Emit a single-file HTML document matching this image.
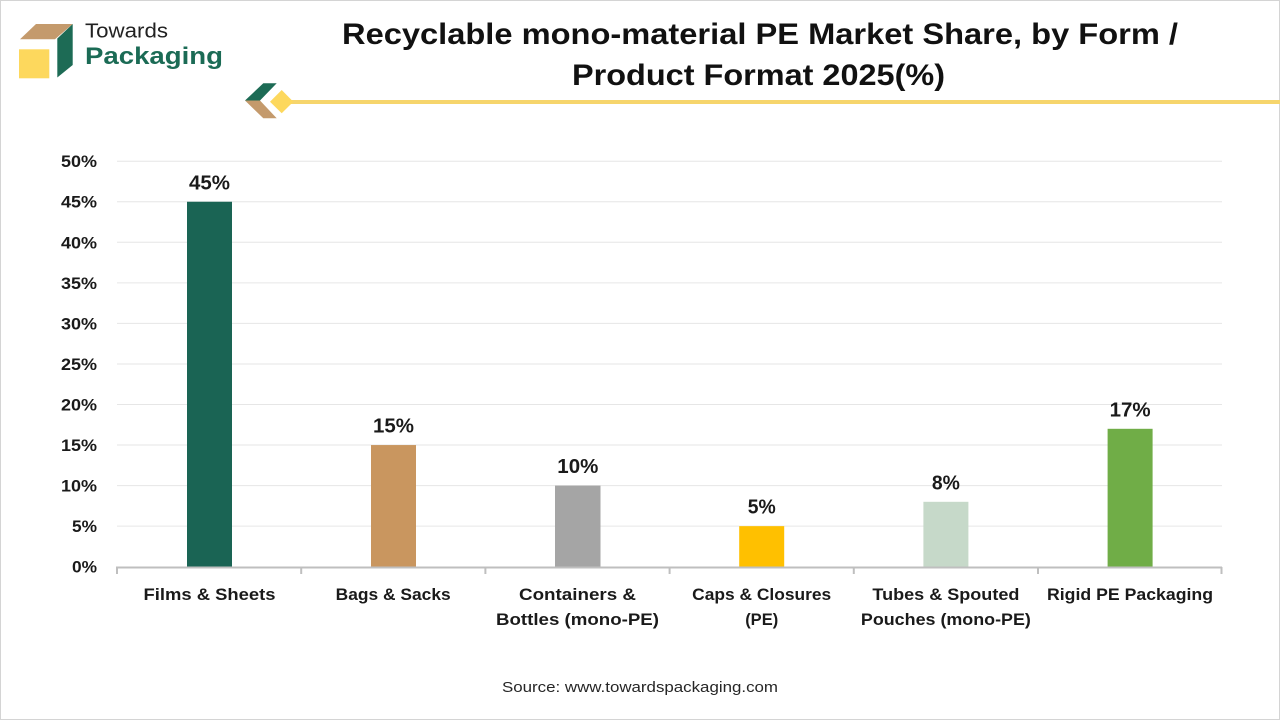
<!DOCTYPE html>
<html>
<head>
<meta charset="utf-8">
<style>
  html,body{margin:0;padding:0;background:#fff;}
  svg{display:block;}
  text{font-family:"Liberation Sans",Arial,sans-serif;}
</style>
</head>
<body>
<svg width="1280" height="720" viewBox="0 0 1280 720" xmlns="http://www.w3.org/2000/svg">
  <rect x="0.5" y="0.5" width="1279" height="719" fill="#fff" stroke="#d4d4d4" stroke-width="1"/>

  <!-- Logo -->
  <polygon points="36,24 72.7,24 55,39.3 20,39.3" fill="#c49a6c"/>
  <polygon points="57.3,38.5 72.7,24 72.7,65 57.3,77.5" fill="#1d6b55"/>
  <rect x="19" y="49.3" width="30.3" height="29" fill="#fdd85d"/>
  <text x="85" y="37.7" font-size="20" fill="#222" textLength="83" lengthAdjust="spacingAndGlyphs">Towards</text>
  <text x="85" y="64" font-size="24" font-weight="bold" fill="#1b6b55" textLength="138" lengthAdjust="spacingAndGlyphs">Packaging</text>

  <!-- Chevron and line -->
  <rect x="288" y="100" width="992" height="4" fill="#f6d56c"/>
  <polygon points="245,100.5 263.3,83.3 276.7,83.3 260,100.5" fill="#1d6b55"/>
  <polygon points="245,100.5 260,100.5 276.7,118.3 263.3,118.3" fill="#c49a6c"/>
  <polygon points="281.7,90 293.3,101.7 281.7,113.3 270,101.7" fill="#fdd85d"/>

  <!-- Title -->
  <text x="760" y="44" font-size="30" font-weight="bold" fill="#111" text-anchor="middle" textLength="836" lengthAdjust="spacingAndGlyphs">Recyclable mono-material PE Market Share, by Form /</text>
  <text x="758.5" y="85" font-size="30" font-weight="bold" fill="#111" text-anchor="middle" textLength="373" lengthAdjust="spacingAndGlyphs">Product Format 2025(%)</text>

  <!-- Gridlines -->
  <g stroke="#e6e6e6" stroke-width="1">
    <line x1="117" x2="1222" y1="161.2" y2="161.2"/>
    <line x1="117" x2="1222" y1="201.75" y2="201.75"/>
    <line x1="117" x2="1222" y1="242.3" y2="242.3"/>
    <line x1="117" x2="1222" y1="282.85" y2="282.85"/>
    <line x1="117" x2="1222" y1="323.4" y2="323.4"/>
    <line x1="117" x2="1222" y1="363.95" y2="363.95"/>
    <line x1="117" x2="1222" y1="404.5" y2="404.5"/>
    <line x1="117" x2="1222" y1="445.05" y2="445.05"/>
    <line x1="117" x2="1222" y1="485.6" y2="485.6"/>
    <line x1="117" x2="1222" y1="526.15" y2="526.15"/>
  </g>

  <!-- Y labels -->
  <g font-size="17" font-weight="bold" fill="#1a1a1a" text-anchor="end">
    <text x="97" y="167.2" textLength="36" lengthAdjust="spacingAndGlyphs">50%</text>
    <text x="97" y="207.7" textLength="36" lengthAdjust="spacingAndGlyphs">45%</text>
    <text x="97" y="248.3" textLength="36" lengthAdjust="spacingAndGlyphs">40%</text>
    <text x="97" y="288.8" textLength="36" lengthAdjust="spacingAndGlyphs">35%</text>
    <text x="97" y="329.4" textLength="36" lengthAdjust="spacingAndGlyphs">30%</text>
    <text x="97" y="369.9" textLength="36" lengthAdjust="spacingAndGlyphs">25%</text>
    <text x="97" y="410.5" textLength="36" lengthAdjust="spacingAndGlyphs">20%</text>
    <text x="97" y="451" textLength="36" lengthAdjust="spacingAndGlyphs">15%</text>
    <text x="97" y="491.6" textLength="36" lengthAdjust="spacingAndGlyphs">10%</text>
    <text x="97" y="532.1" textLength="25" lengthAdjust="spacingAndGlyphs">5%</text>
    <text x="97" y="572.7" textLength="25" lengthAdjust="spacingAndGlyphs">0%</text>
  </g>

  <!-- Bars -->
  <rect x="187" y="201.75" width="45" height="364.95" fill="#1a6454"/>
  <rect x="371" y="445.05" width="45" height="121.65" fill="#c9965f"/>
  <rect x="555" y="485.6" width="45.5" height="81.1" fill="#a5a5a5"/>
  <rect x="739.2" y="526.15" width="45" height="40.55" fill="#ffc000"/>
  <rect x="923.4" y="501.8" width="45" height="64.9" fill="#c6d9c9"/>
  <rect x="1107.6" y="428.8" width="45" height="137.9" fill="#70ad47"/>

  <!-- Axis -->
  <g stroke="#bfbfbf" stroke-width="2">
    <line x1="116" x2="1222" y1="567.5" y2="567.5"/>
    <line x1="117" x2="117" y1="567" y2="574"/>
    <line x1="301.2" x2="301.2" y1="567" y2="574"/>
    <line x1="485.4" x2="485.4" y1="567" y2="574"/>
    <line x1="669.6" x2="669.6" y1="567" y2="574"/>
    <line x1="853.8" x2="853.8" y1="567" y2="574"/>
    <line x1="1038" x2="1038" y1="567" y2="574"/>
    <line x1="1221.5" x2="1221.5" y1="567" y2="574"/>
  </g>

  <!-- Value labels -->
  <g font-size="20" font-weight="bold" fill="#1a1a1a" text-anchor="middle">
    <text x="209.5" y="189.3" textLength="41" lengthAdjust="spacingAndGlyphs">45%</text>
    <text x="393.5" y="432.6" textLength="41" lengthAdjust="spacingAndGlyphs">15%</text>
    <text x="577.8" y="473.1" textLength="41" lengthAdjust="spacingAndGlyphs">10%</text>
    <text x="761.7" y="513.7" textLength="28" lengthAdjust="spacingAndGlyphs">5%</text>
    <text x="945.9" y="489.3" textLength="28" lengthAdjust="spacingAndGlyphs">8%</text>
    <text x="1130.1" y="416.5" textLength="41" lengthAdjust="spacingAndGlyphs">17%</text>
  </g>

  <!-- Category labels -->
  <g font-size="17" font-weight="bold" fill="#1a1a1a" text-anchor="middle">
    <text x="209.5" y="600" textLength="132" lengthAdjust="spacingAndGlyphs">Films &amp; Sheets</text>
    <text x="393.2" y="600" textLength="115" lengthAdjust="spacingAndGlyphs">Bags &amp; Sacks</text>
    <text x="577.5" y="600" textLength="117" lengthAdjust="spacingAndGlyphs">Containers &amp;</text>
    <text x="577.5" y="625" textLength="163" lengthAdjust="spacingAndGlyphs">Bottles (mono-PE)</text>
    <text x="761.7" y="600" textLength="139" lengthAdjust="spacingAndGlyphs">Caps &amp; Closures</text>
    <text x="761.7" y="625" textLength="33" lengthAdjust="spacingAndGlyphs">(PE)</text>
    <text x="945.9" y="600" textLength="147" lengthAdjust="spacingAndGlyphs">Tubes &amp; Spouted</text>
    <text x="945.9" y="625" textLength="170" lengthAdjust="spacingAndGlyphs">Pouches (mono-PE)</text>
    <text x="1130" y="600" textLength="166" lengthAdjust="spacingAndGlyphs">Rigid PE Packaging</text>
  </g>

  <!-- Source -->
  <text x="640" y="692" font-size="15" fill="#262626" text-anchor="middle" textLength="276" lengthAdjust="spacingAndGlyphs">Source: www.towardspackaging.com</text>
</svg>
</body>
</html>
